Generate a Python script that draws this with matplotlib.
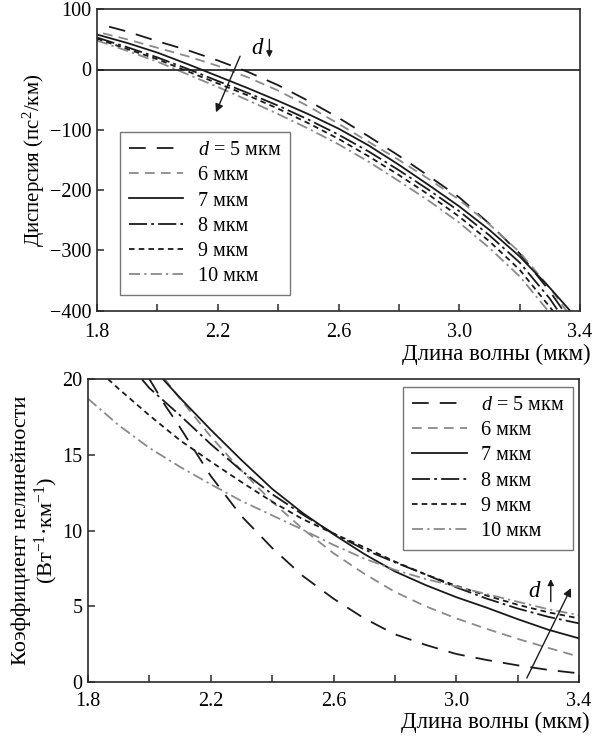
import matplotlib
matplotlib.use("Agg")
import matplotlib.pyplot as plt
from matplotlib.ticker import MultipleLocator

plt.rcParams['font.family'] = ['Liberation Serif', 'DejaVu Serif']
plt.rcParams['mathtext.fontset'] = 'custom'
plt.rcParams['mathtext.rm'] = 'Liberation Serif'
plt.rcParams['mathtext.it'] = 'Liberation Serif:italic'
plt.rcParams['lines.scale_dashes'] = False

# ---------------- data: dispersion (ps^2/km) ----------------
wl_d5 = [1.84, 1.9, 2.0, 2.1, 2.2, 2.3, 2.4, 2.5, 2.6, 2.7, 2.8, 2.9, 3.0, 3.1, 3.2, 3.3, 3.345]
D_d5 = [71, 63, 47, 32, 15, -4, -26, -52, -80, -111, -143, -177, -212, -256, -305, -368, -400]
wl_d6 = [1.82, 1.9, 2.0, 2.1, 2.2, 2.3, 2.4, 2.5, 2.6, 2.7, 2.8, 2.9, 3.0, 3.1, 3.2, 3.3, 3.355]
D_d6 = [60, 50, 36, 22, 6, -13, -35, -61, -90, -120, -150, -182, -216, -257, -303, -362, -400]
wl_d7 = [1.8, 1.9, 2.0, 2.1, 2.2, 2.3, 2.4, 2.5, 2.6, 2.7, 2.8, 2.9, 3.0, 3.1, 3.2, 3.3, 3.367]
D_d7 = [58, 44, 28, 9, -11, -31, -52, -74, -98, -126, -158, -192, -227, -266, -310, -362, -400]
wl_d8 = [1.8, 1.9, 2.0, 2.1, 2.2, 2.3, 2.4, 2.5, 2.6, 2.7, 2.8, 2.9, 3.0, 3.1, 3.2, 3.3, 3.327]
D_d8 = [53, 37, 20, 1, -19, -39, -60, -83, -108, -136, -167, -200, -235, -275, -320, -380, -400]
wl_d9 = [1.8, 1.9, 2.0, 2.1, 2.2, 2.3, 2.4, 2.5, 2.6, 2.7, 2.8, 2.9, 3.0, 3.1, 3.2, 3.31]
D_d9 = [51, 34, 17, -3, -23, -43, -65, -89, -115, -144, -175, -208, -244, -285, -332, -400]
wl_d10 = [1.8, 1.9, 2.0, 2.1, 2.2, 2.3, 2.4, 2.5, 2.6, 2.7, 2.8, 2.9, 3.0, 3.1, 3.2, 3.294]
D_d10 = [48, 31, 13, -8, -29, -51, -74, -98, -124, -153, -185, -218, -254, -296, -343, -400]

# ---------------- data: nonlinearity (1/(W km)) ----------------
wg_d5 = [2.0, 2.05, 2.1, 2.2, 2.3, 2.4, 2.5, 2.6, 2.7, 2.8, 2.9, 3.0, 3.1, 3.2, 3.3, 3.4]
G_d5 = [20, 18.3, 16.8, 13.6, 10.95, 8.85, 7.0, 5.5, 4.2, 3.15, 2.45, 1.85, 1.45, 1.1, 0.8, 0.57]
wg_d6 = [2.05, 2.1, 2.2, 2.3, 2.4, 2.5, 2.6, 2.7, 2.8, 2.9, 3.0, 3.1, 3.2, 3.3, 3.4]
G_d6 = [20, 18.7, 16.2, 13.95, 11.9, 10.1, 8.5, 7.15, 5.95, 5.0, 4.2, 3.5, 2.85, 2.25, 1.67]
wg_d7 = [2.044, 2.1, 2.15, 2.2, 2.3, 2.4, 2.5, 2.6, 2.7, 2.8, 2.9, 3.0, 3.1, 3.2, 3.3, 3.4]
G_d7 = [20, 18.75, 17.7, 16.65, 14.65, 12.75, 11.15, 9.75, 8.45, 7.3, 6.4, 5.6, 4.9, 4.15, 3.45, 2.88]
wg_d8 = [1.975, 2.0, 2.1, 2.2, 2.3, 2.4, 2.5, 2.6, 2.7, 2.8, 2.9, 3.0, 3.1, 3.2, 3.3, 3.4]
G_d8 = [20, 19.4, 17.6, 15.7, 13.95, 12.4, 11.05, 9.8, 8.75, 7.9, 7.1, 6.25, 5.5, 4.85, 4.3, 3.87]
wg_d9 = [1.865, 1.9, 2.0, 2.1, 2.2, 2.3, 2.4, 2.5, 2.6, 2.7, 2.8, 2.9, 3.0, 3.1, 3.2, 3.3, 3.4]
G_d9 = [20, 19.35, 17.6, 15.95, 14.55, 13.2, 11.9, 10.75, 9.8, 8.9, 7.95, 7.1, 6.35, 5.7, 5.1, 4.6, 4.2]
wg_d10 = [1.8, 1.9, 2.0, 2.1, 2.2, 2.3, 2.4, 2.5, 2.6, 2.7, 2.8, 2.9, 3.0, 3.1, 3.2, 3.3, 3.4]
G_d10 = [18.7, 16.95, 15.45, 14.2, 13.05, 11.95, 11.0, 10.05, 9.05, 8.15, 7.4, 6.8, 6.3, 5.8, 5.3, 4.8, 4.42]

labels = ["$d$ = 5 мкм", "6 мкм", "7 мкм", "8 мкм", "9 мкм", "10 мкм"]
x_ticks = [1.8, 2.2, 2.6, 3.0, 3.4]
x_tick_labels = ["1.8", "2.2", "2.6", "3.0", "3.4"]

BLACK = "#1a1a1a"
GRAY = "#8a8a8a"
styles = [
    dict(color=BLACK, dashes=(12, 8)),
    dict(color=GRAY, dashes=(7, 4.5)),
    dict(color=BLACK, linestyle='-'),
    dict(color=BLACK, dashes=(13, 3, 2, 3)),
    dict(color=BLACK, dashes=(4, 3)),
    dict(color=GRAY, dashes=(8, 3, 1.6, 3)),
]

fig = plt.figure(figsize=(5.95, 7.37), dpi=100)
ax1 = fig.add_axes([97/595, 1-310.7/737, 483/595, 301.5/737])
ax2 = fig.add_axes([88/595, 1-682/737, 491/595, 303/737])

FS = 14.5
LFS = 16.5

def style_axes(ax, pad):
    for s in ax.spines.values():
        s.set_linewidth(1.2)
        s.set_color("#2a2a2a")
    ax.set_xlim(1.8, 3.4)
    ax.set_xticks(x_ticks)
    ax.set_xticklabels(x_tick_labels)
    ax.xaxis.set_minor_locator(MultipleLocator(0.2))
    ax.tick_params(which='both', direction='in', length=5, width=1.1,
                   labelsize=FS, pad=pad, color="#2a2a2a")
    ax.tick_params(axis='y', pad=4)

# ---- top panel ----
lw = 1.3
series_top = [(wl_d5, D_d5), (wl_d6, D_d6), (wl_d7, D_d7),
              (wl_d8, D_d8), (wl_d9, D_d9), (wl_d10, D_d10)]
for (x, y), st, lab in zip(series_top, styles, labels):
    ax1.plot(x, y, lw=lw, label=lab, **st)
ax1.axhline(0, color=BLACK, lw=1.2)
ax1.set_ylim(-400, 100)
ax1.set_yticks([-400, -300, -200, -100, 0, 100])
ax1.set_yticklabels(["\u2212400", "\u2212300", "\u2212200", "\u2212100", "0", "100"])
style_axes(ax1, 9)
ax1.set_ylabel("Дисперсия (пс$^2$/км)", fontsize=FS+0.5, labelpad=2)
ax1.set_xlabel("Длина волны (мкм)", fontsize=LFS)
ax1.xaxis.set_label_coords(1.022, -0.11)
ax1.xaxis.label.set_ha('right')

ax1.annotate("", xy=(2.194, -71), xytext=(2.274, 22),
             arrowprops=dict(arrowstyle='-|>', color=BLACK, lw=1.0,
                             mutation_scale=12, shrinkA=0, shrinkB=0))
ax1.text(2.334, 35, "$d$", fontsize=FS+2, ha='center', va='center')
ax1.annotate("", xy=(2.371, 20), xytext=(2.371, 50),
             arrowprops=dict(arrowstyle='-|>', color=BLACK, lw=1.0,
                             mutation_scale=9, shrinkA=0, shrinkB=0))

leg_kw = dict(borderaxespad=0, fontsize=FS, frameon=True, fancybox=False,
              handlelength=2.7, handletextpad=0.7, labelspacing=0.3,
              borderpad=0.45)
leg1 = ax1.legend(loc='lower left', bbox_to_anchor=(0.0476, 0.052), **leg_kw)
leg1.get_frame().set_edgecolor("#555555")
leg1.get_frame().set_linewidth(1.0)

# ---- bottom panel ----
series_bot = [(wg_d5, G_d5), (wg_d6, G_d6), (wg_d7, G_d7),
              (wg_d8, G_d8), (wg_d9, G_d9), (wg_d10, G_d10)]
for (x, y), st, lab in zip(series_bot, styles, labels):
    ax2.plot(x, y, lw=lw, label=lab, **st)
ax2.set_ylim(0, 20)
ax2.set_yticks([0, 5, 10, 15, 20])
style_axes(ax2, 7.5)
ax2.set_ylabel("Коэффициент нелинейности\n(Вт$^{-1}$·км$^{-1}$)", fontsize=16,
               labelpad=2, linespacing=1.05)
ax2.set_xlabel("Длина волны (мкм)", fontsize=LFS)
ax2.xaxis.set_label_coords(1.022, -0.097)
ax2.xaxis.label.set_ha('right')

ax2.annotate("", xy=(3.374, 6.2), xytext=(3.23, 0.26),
             arrowprops=dict(arrowstyle='-|>', color=BLACK, lw=1.0,
                             mutation_scale=12, shrinkA=0, shrinkB=0))
ax2.text(3.257, 5.96, "$d$", fontsize=FS+2, ha='center', va='center')
ax2.annotate("", xy=(3.308, 6.8), xytext=(3.308, 5.3),
             arrowprops=dict(arrowstyle='-|>', color=BLACK, lw=1.0,
                             mutation_scale=9, shrinkA=0, shrinkB=0))

leg2 = ax2.legend(loc='upper right', bbox_to_anchor=(0.988, 0.9736), **leg_kw)
leg2.get_frame().set_edgecolor("#555555")
leg2.get_frame().set_linewidth(1.0)

fig.savefig("out.png", dpi=100)
